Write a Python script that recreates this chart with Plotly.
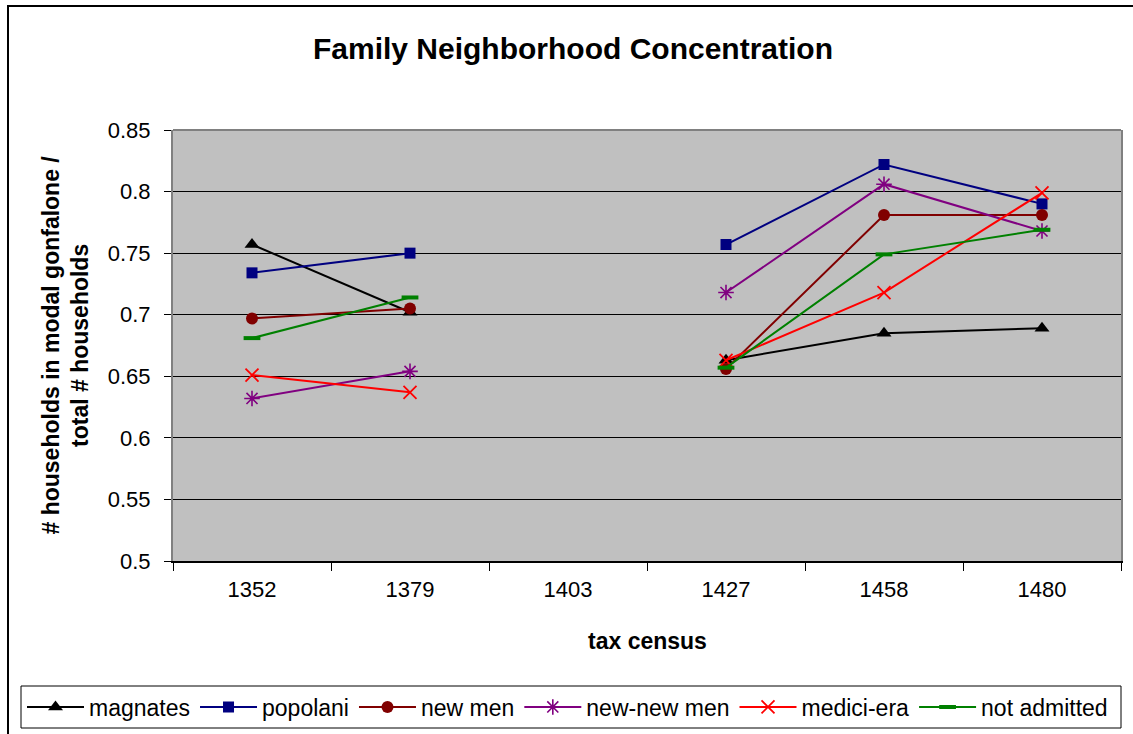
import plotly.graph_objects as go

# Tax census years (1403 has no observations)
census = ["1352", "1379", "1403", "1427", "1458", "1480"]

# Share of a family's households living in its modal gonfalone
magnates = [0.757, 0.702, None, 0.663, 0.685, 0.689]
popolani = [0.734, 0.750, None, 0.757, 0.822, 0.790]
new_men = [0.697, 0.705, None, 0.656, 0.781, 0.781]
new_new_men = [0.632, 0.654, None, 0.718, 0.806, 0.768]
medici_era = [0.651, 0.637, None, 0.663, 0.718, 0.799]
not_admitted = [0.681, 0.714, None, 0.657, 0.749, 0.769]

y_ticks = [0.5, 0.55, 0.6, 0.65, 0.7, 0.75, 0.8, 0.85]
y_tick_text = ["0.5", "0.55", "0.6", "0.65", "0.7", "0.75", "0.8", "0.85"]

FONT = "Liberation Sans, Arial, sans-serif"
W, H = 1133, 734
# plot area in pixels
PL, PR, PT, PB = 173, 1121, 130, 561
PW, PH = PR - PL, PB - PT


def px_x(x):
    return (x - PL) / PW


def px_y(y):
    return (PB - y) / PH


series = [
    ("magnates", magnates, "#000000", dict(symbol="triangle-up", size=13)),
    ("popolani", popolani, "#000080", dict(symbol="square", size=11)),
    ("new men", new_men, "#800000", dict(symbol="circle", size=12)),
    ("new-new men", new_new_men, "#800080",
     dict(symbol="asterisk-open", size=13, line=dict(width=1.6, color="#800080"))),
    ("medici-era", medici_era, "#FF0000",
     dict(symbol="x-thin-open", size=13, line=dict(width=1.8, color="#FF0000"))),
    ("not admitted", not_admitted, "#008000",
     dict(symbol="line-ew-open", size=12, line=dict(width=4, color="#008000"))),
]

fig = go.Figure()
for name, values, color, marker in series:
    marker = dict(marker)
    marker.setdefault("color", color)
    fig.add_trace(go.Scatter(
        x=census, y=values, name=name, mode="lines+markers",
        line=dict(color=color, width=2), marker=marker,
        connectgaps=False,
    ))

fig.update_layout(
    width=W, height=H,
    margin=dict(l=PL, r=W - PR, t=PT, b=H - PB, autoexpand=False),
    paper_bgcolor="white",
    plot_bgcolor="#C0C0C0",
    font=dict(family=FONT, color="black", size=22),
    title=dict(
        text="<b>Family Neighborhood Concentration</b>",
        x=573 / W, xanchor="center",
        y=1 - 48 / H, yanchor="middle",
        font=dict(family=FONT, size=30, color="black"),
    ),
    showlegend=True,
    legend=dict(
        orientation="h",
        x=px_x(22), xanchor="left",
        y=px_y(707), yanchor="middle",
        bgcolor="rgba(0,0,0,0)", borderwidth=0,
        itemwidth=57,
        font=dict(family=FONT, size=23, color="black"),
        itemclick=False, itemdoubleclick=False,
    ),
)

fig.update_xaxes(
    type="category",
    categoryorder="array", categoryarray=census,
    range=[-0.5, len(census) - 0.5],
    tickson="boundaries",
    ticks="outside", ticklen=8, tickwidth=1, tickcolor="black",
    ticklabelstandoff=8,
    showgrid=False, zeroline=False,
    showline=True, linecolor="black", linewidth=1.5,
    tickfont=dict(family=FONT, size=22, color="black"),
)

fig.update_yaxes(
    range=[0.5, 0.85],
    tickvals=y_ticks, ticktext=y_tick_text,
    ticks="outside", ticklen=7, tickwidth=1, tickcolor="black",
    ticklabelstandoff=9,
    showgrid=True, gridcolor="black", gridwidth=1,
    zeroline=False,
    showline=True, linecolor="#808080", linewidth=2, mirror=True,
    tickfont=dict(family=FONT, size=22, color="black"),
)

# Axis titles
fig.add_annotation(
    text="<b># households in modal gonfalone /<br>total # households</b>",
    xref="paper", yref="paper",
    x=px_x(65), y=0.5,
    xanchor="center", yanchor="middle",
    textangle=-90, showarrow=False,
    font=dict(family=FONT, size=23, color="black"),
)
fig.add_annotation(
    text="<b>tax census</b>",
    xref="paper", yref="paper",
    x=0.5, y=px_y(641),
    xanchor="center", yanchor="middle",
    showarrow=False,
    font=dict(family=FONT, size=23, color="black"),
)

# Plot-area top border, chart frame and legend box
fig.add_shape(type="line", xref="paper", yref="paper",
              x0=0, x1=1, y0=1, y1=1,
              line=dict(color="#808080", width=2))
fig.add_shape(type="rect", xref="paper", yref="paper",
              x0=px_x(8), x1=px_x(1140),
              y0=px_y(745), y1=px_y(6),
              line=dict(color="black", width=2), fillcolor="rgba(0,0,0,0)",
              layer="below")
fig.add_shape(type="rect", xref="paper", yref="paper",
              x0=px_x(21), x1=px_x(1121),
              y0=px_y(728), y1=px_y(686),
              line=dict(color="black", width=1), fillcolor="white",
              layer="below")

fig.write_html("out.html")
